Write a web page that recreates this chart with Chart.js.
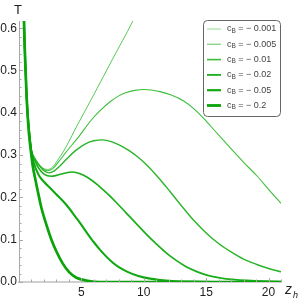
<!DOCTYPE html>
<html>
<head>
<meta charset="utf-8">
<script src="https://cdn.jsdelivr.net/npm/chart.js@4.4.1/dist/chart.umd.min.js"></script>
<style>
  html, body { margin: 0; padding: 0; background: #fff; }
  #wrap { width: 300px; height: 300px; }
</style>
</head>
<body>
<div id="wrap"><canvas id="tPlot" width="300" height="300"></canvas></div>
<script>
// c_B values shown in the legend
const cbLabels = ['0.001', '0.005', '0.01', '0.02', '0.05', '0.2'];

// z_h / T values, one pair of arrays per curve
const z001 = [0.38, 0.40, 0.5, 0.6, 0.7, 0.8, 0.9, 1.0, 1.3, 1.7, 2.0, 2.3, 2.7, 3.1, 3.63, 4.68, 6.0, 7.5, 9.09, 9.2];
const t001 = [0.65, 0.617, 0.52, 0.445, 0.395, 0.36, 0.33, 0.31, 0.292, 0.275, 0.268, 0.266, 0.272, 0.288, 0.312, 0.371, 0.443, 0.527, 0.615, 0.622];

const z005 = [0.38, 0.40, 0.5, 0.6, 0.7, 0.8, 0.9, 1.0, 1.3, 1.7, 2.0, 2.3, 2.7, 3.2, 3.9, 4.7, 5.8, 6.5, 7.3, 8.0, 8.6, 9.3, 10.0, 10.6, 11.3, 12.2, 13.2, 14.0, 14.8, 15.8, 16.9, 18.0, 19.1, 20.0, 21.0];
const t005 = [0.65, 0.617, 0.52, 0.445, 0.395, 0.36, 0.33, 0.31, 0.29, 0.274, 0.266, 0.263, 0.268, 0.285, 0.312, 0.340, 0.383, 0.405, 0.426, 0.440, 0.448, 0.453, 0.455, 0.454, 0.450, 0.442, 0.428, 0.410, 0.387, 0.354, 0.318, 0.283, 0.250, 0.219, 0.186];

const z01 = [0.38, 0.40, 0.5, 0.6, 0.7, 0.8, 0.9, 1.0, 1.3, 1.7, 2.0, 2.4, 2.8, 3.3, 3.8, 4.5, 5.4, 6.0, 6.7, 7.4, 8.1, 8.8, 9.5, 10.3, 11.2, 12.1, 13.0, 14.0, 15.0, 16.0, 17.0, 18.0, 19.0, 20.0, 21.0];
const t01 = [0.65, 0.617, 0.52, 0.445, 0.395, 0.36, 0.33, 0.31, 0.29, 0.272, 0.263, 0.258, 0.262, 0.275, 0.290, 0.310, 0.328, 0.334, 0.336, 0.332, 0.323, 0.311, 0.296, 0.275, 0.246, 0.214, 0.181, 0.146, 0.116, 0.091, 0.071, 0.054, 0.042, 0.032, 0.024];

const z02 = [0.38, 0.40, 0.5, 0.6, 0.7, 0.8, 0.9, 1.0, 1.3, 1.6, 2.0, 2.6, 3.0, 3.5, 4.3, 4.9, 5.5, 6.2, 7.0, 7.8, 8.6, 9.4, 10.2, 11.0, 11.8, 12.6, 13.4, 14.3, 15.2, 16.2, 17.5, 19.0, 21.0];
const t02 = [0.65, 0.617, 0.52, 0.445, 0.395, 0.36, 0.33, 0.31, 0.285, 0.268, 0.255, 0.250, 0.252, 0.256, 0.260, 0.256, 0.247, 0.232, 0.211, 0.188, 0.163, 0.138, 0.113, 0.090, 0.069, 0.051, 0.036, 0.024, 0.015, 0.009, 0.005, 0.003, 0.001];

const z05 = [0.38, 0.40, 0.5, 0.6, 0.7, 0.8, 0.9, 1.0, 1.2, 1.6, 2.0, 2.5, 3.0, 3.5, 4.0, 4.5, 5.0, 5.5, 6.0, 6.5, 7.0, 7.5, 8.0, 8.7, 9.5, 10.5, 12.0, 14.0, 16.0, 21.0];
const t05 = [0.65, 0.617, 0.52, 0.445, 0.395, 0.36, 0.33, 0.305, 0.280, 0.252, 0.237, 0.222, 0.207, 0.192, 0.175, 0.155, 0.135, 0.114, 0.094, 0.076, 0.060, 0.046, 0.035, 0.024, 0.015, 0.008, 0.003, 0.001, 0.0, 0.0];

const z2 = [0.38, 0.40, 0.5, 0.6, 0.7, 0.8, 0.97, 1.1, 1.32, 1.61, 1.8, 2.2, 2.6, 3.0, 3.5, 4.0, 4.6, 5.5, 6.5, 21.0];
const t2 = [0.65, 0.617, 0.52, 0.445, 0.39, 0.35, 0.305, 0.275, 0.241, 0.200, 0.175, 0.135, 0.100, 0.072, 0.044, 0.024, 0.010, 0.003, 0.0, 0.0];

const curveZ = [z001, z005, z01, z02, z05, z2];
const curveT = [t001, t005, t01, t02, t05, t2];

// tick values
const yMajor = [0, 0.1, 0.2, 0.3, 0.4, 0.5, 0.6];
const yMinor = [0.02, 0.04, 0.06, 0.08, 0.12, 0.14, 0.16, 0.18, 0.22, 0.24, 0.26, 0.28, 0.32, 0.34, 0.36, 0.38, 0.42, 0.44, 0.46, 0.48, 0.52, 0.54, 0.56, 0.58];
const xMajor = [5, 10, 15, 20];
const xMinor = [1, 2, 3, 4, 6, 7, 8, 9, 11, 12, 13, 14, 16, 17, 18, 19, 21];

const lineColors = ['#44c444', '#3cbf3c', '#2ab52a', '#1cae1c', '#12a812', '#0aa30a'];
const lineWidths = [0.9, 1.1, 1.4, 1.7, 2.1, 2.7];
const legendWidths = [1.0, 1.4, 1.6, 1.9, 2.2, 2.8];
const legendColors = ['#8fdc8f', '#8ad88a', '#3cbc3c', '#22b022', '#16a916', '#0aa30a'];

function pointsOf(zs, ts) {
    return zs.map(function (z, i) { return { x: z, y: ts[i] }; });
}

const datasets = curveZ.map(function (zs, i) {
    return {
        label: 'c_B = - ' + cbLabels[i],
        data: pointsOf(zs, curveT[i]),
        borderColor: lineColors[i],
        borderWidth: lineWidths[i],
        pointRadius: 0,
        fill: false,
        cubicInterpolationMode: 'monotone',
        order: 6 - i
    };
});

// axis ticks drawn inside the frame, axis names and the legend box
const decorations = {
    id: 'decorations',
    afterDraw: function (chart) {
        const ctx = chart.ctx;
        const xs = chart.scales.x;
        const ys = chart.scales.y;
        const area = chart.chartArea;
        ctx.save();
        ctx.strokeStyle = '#a8a8a8';
        ctx.lineWidth = 1;
        ctx.beginPath();
        yMajor.forEach(function (v) {
            const p = Math.round(ys.getPixelForValue(v)) + 0.5;
            ctx.moveTo(area.left, p); ctx.lineTo(area.left + 4, p);
        });
        yMinor.forEach(function (v) {
            const p = Math.round(ys.getPixelForValue(v)) + 0.5;
            ctx.moveTo(area.left, p); ctx.lineTo(area.left + 2.5, p);
        });
        xMajor.forEach(function (v) {
            const p = Math.round(xs.getPixelForValue(v)) + 0.5;
            ctx.moveTo(p, area.bottom); ctx.lineTo(p, area.bottom - 4);
        });
        xMinor.forEach(function (v) {
            const p = Math.round(xs.getPixelForValue(v)) + 0.5;
            ctx.moveTo(p, area.bottom); ctx.lineTo(p, area.bottom - 2.5);
        });
        ctx.stroke();

        // axis names
        ctx.fillStyle = '#222';
        ctx.textBaseline = 'alphabetic';
        ctx.textAlign = 'left';
        ctx.font = '13px "Liberation Sans", Arial, sans-serif';
        ctx.fillText('T', 14, 14);
        ctx.font = 'italic 14px "Liberation Sans", Arial, sans-serif';
        ctx.fillText('z', 285, 294);
        ctx.font = 'italic 9px "Liberation Sans", Arial, sans-serif';
        ctx.fillText('h', 293, 298);

        // legend
        const bx = 203, by = 20, bw = 77, bh = 96;
        ctx.beginPath();
        ctx.roundRect(bx + 0.5, by + 0.5, bw, bh, 4);
        ctx.fillStyle = '#fff';
        ctx.fill();
        ctx.strokeStyle = '#666';
        ctx.lineWidth = 1;
        ctx.stroke();
        cbLabels.forEach(function (lab, i) {
            const cy = 29 + i * 15.3;
            ctx.beginPath();
            ctx.strokeStyle = legendColors[i];
            ctx.lineWidth = legendWidths[i];
            ctx.moveTo(207, cy); ctx.lineTo(221, cy);
            ctx.stroke();
            ctx.fillStyle = '#444';
            ctx.textBaseline = 'middle';
            ctx.font = '9px "Liberation Sans", Arial, sans-serif';
            let tx = 227;
            ctx.fillText('c', tx, cy);
            tx += ctx.measureText('c').width;
            ctx.font = '6.5px "Liberation Sans", Arial, sans-serif';
            ctx.fillText('B', tx, cy + 2);
            tx += ctx.measureText('B').width;
            ctx.font = '9px "Liberation Sans", Arial, sans-serif';
            ctx.fillText(' = \u2212 ' + lab, tx, cy);
        });
        ctx.restore();
    }
};

new Chart(document.getElementById('tPlot').getContext('2d'), {
    type: 'line',
    data: { datasets: datasets },
    options: {
        responsive: false,
        animation: false,
        layout: { padding: { top: 21, right: 19, left: 0, bottom: 0 } },
        plugins: {
            legend: { display: false },
            tooltip: { enabled: false }
        },
        scales: {
            x: {
                type: 'linear',
                min: 0,
                max: 21,
                afterFit: function (scale) { scale.height = 18; },
                grid: { display: false, drawTicks: false },
                border: { display: true, color: '#cfcfcf', width: 2 },
                ticks: {
                    stepSize: 5,
                    padding: 3,
                    color: '#222',
                    font: { size: 12, family: '"Liberation Sans", Arial, sans-serif' },
                    includeBounds: false,
                    callback: function (v) { return v === 0 ? '' : v; }
                }
            },
            y: {
                type: 'linear',
                min: 0,
                max: 0.617,
                afterFit: function (scale) { scale.width = 19; },
                grid: { display: false, drawTicks: false },
                border: { display: true, color: '#a8a8a8', width: 1 },
                ticks: {
                    stepSize: 0.1,
                    padding: 2,
                    color: '#222',
                    font: { size: 12, family: '"Liberation Sans", Arial, sans-serif' },
                    includeBounds: false,
                    callback: function (v) { return v.toFixed(1); }
                }
            }
        }
    },
    plugins: [decorations]
});
</script>
</body>
</html>
